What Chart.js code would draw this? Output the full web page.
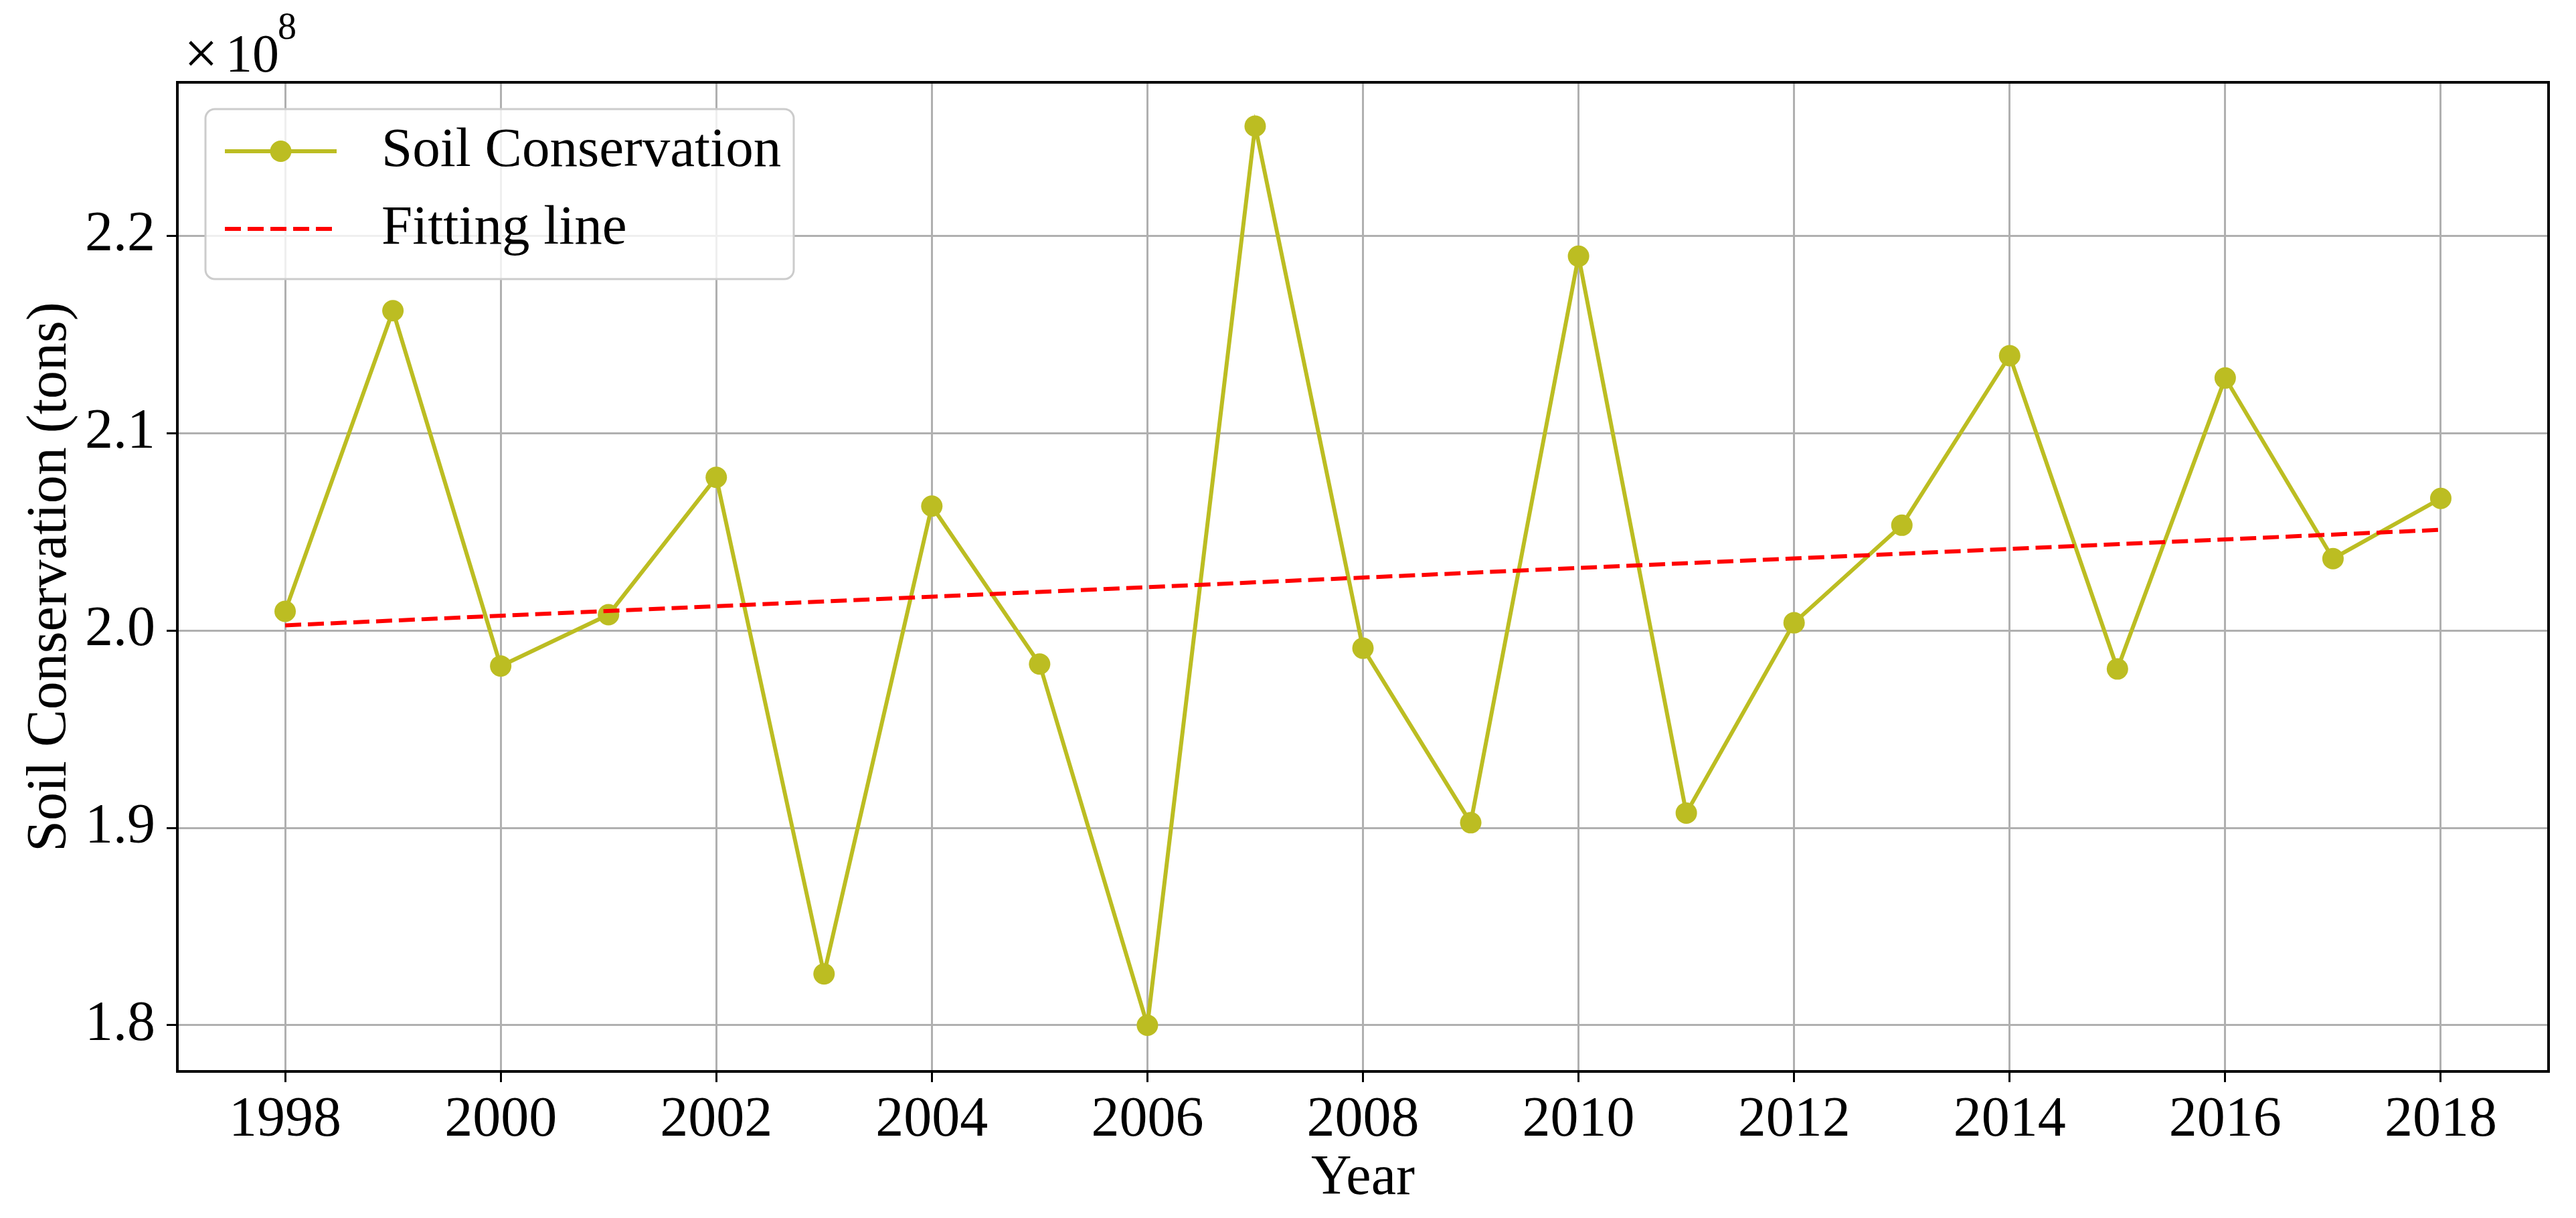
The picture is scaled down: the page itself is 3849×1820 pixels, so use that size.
<!DOCTYPE html>
<html>
<head>
<meta charset="utf-8">
<script src="https://cdn.jsdelivr.net/npm/chart.js@4/dist/chart.umd.min.js"></script>
<style>
  html, body { margin: 0; padding: 0; background: #fff; }
  canvas { display: block; }
</style>
</head>
<body>
<canvas id="chart" width="3849" height="1820"></canvas>
<script>
// 数据（单位：×10^8 吨），读自原图
var years = [1998, 1999, 2000, 2001, 2002, 2003, 2004, 2005, 2006, 2007, 2008,
             2009, 2010, 2011, 2012, 2013, 2014, 2015, 2016, 2017, 2018];
var soilConservation = [2.0097, 2.162, 1.982, 2.008, 2.0776, 1.826, 2.063, 1.983, 1.800, 2.2555, 1.991,
                        1.9026, 2.1896, 1.9075, 2.0039, 2.0533, 2.1392, 1.9805, 2.1279, 2.0364, 2.0669];
var fitYears = [1998, 2018];
var fitValues = [2.0026, 2.0510];
var xTicks = [1998, 2000, 2002, 2004, 2006, 2008, 2010, 2012, 2014, 2016, 2018];
var yTicks = [1.8, 1.9, 2.0, 2.1, 2.2];

(function () {
  var SERIF = "'Liberation Serif','Times New Roman',serif";
  var OLIVE = "#bcbd22";
  var RED = "#ff0000";
  var GRID = "#b0b0b0";
  Chart.defaults.font.family = SERIF;
  Chart.defaults.color = "#000";
  Chart.defaults.animation = false;

  function pairs(xs, ys) {
    return xs.map(function (x, i) { return { x: x, y: ys[i] }; });
  }

  // 外框 + 图例 + 偏移文字（×10^8）
  var decor = {
    id: "decor",
    afterDatasetsDraw: function (chart) {
      var a = chart.chartArea, ctx = chart.ctx;
      ctx.save();
      ctx.strokeStyle = "#000";
      ctx.lineWidth = 4;
      ctx.strokeRect(a.left, a.top, a.right - a.left, a.bottom - a.top);
      ctx.restore();
    },
    afterDraw: function (chart) {
      var a = chart.chartArea, ctx = chart.ctx;
      ctx.save();
      // 图例框
      var bx = a.left + 42, by = a.top + 40, bw = 879, bh = 254;
      ctx.beginPath();
      ctx.roundRect(bx, by, bw, bh, 14);
      ctx.fillStyle = "rgba(255,255,255,0.8)";
      ctx.fill();
      ctx.strokeStyle = "#cccccc";
      ctx.lineWidth = 3;
      ctx.stroke();

      var x0 = bx + 29, x1 = bx + 196, tx = bx + 263;
      var r1 = by + 63, r2 = by + 179;
      ctx.lineWidth = 6;
      ctx.strokeStyle = OLIVE;
      ctx.beginPath(); ctx.moveTo(x0, r1); ctx.lineTo(x1, r1); ctx.stroke();
      ctx.fillStyle = OLIVE;
      ctx.beginPath(); ctx.arc((x0 + x1) / 2, r1, 16, 0, Math.PI * 2); ctx.fill();

      ctx.strokeStyle = RED;
      ctx.setLineDash([24, 10]);
      ctx.beginPath(); ctx.moveTo(x0, r2); ctx.lineTo(x1, r2); ctx.stroke();
      ctx.setLineDash([]);

      ctx.fillStyle = "#000";
      ctx.font = "83px " + SERIF;
      ctx.textBaseline = "middle";
      ctx.textAlign = "left";
      ctx.fillText("Soil Conservation", tx, r1);
      ctx.fillText("Fitting line", tx, r2);

      // 偏移文字
      ctx.textBaseline = "alphabetic";
      ctx.font = "90px " + SERIF;
      ctx.fillText("\u00d7", a.left + 10, 110);
      ctx.font = "80px " + SERIF;
      ctx.fillText("10", a.left + 72, 107);
      ctx.font = "56px " + SERIF;
      ctx.fillText("8", a.left + 150, 58);
      ctx.restore();
    }
  };

  new Chart(document.getElementById("chart"), {
    type: "line",
    data: {
      datasets: [
        {
          label: "Soil Conservation",
          data: pairs(years, soilConservation),
          borderColor: OLIVE,
          backgroundColor: OLIVE,
          borderWidth: 6,
          pointRadius: 16,
          pointBorderWidth: 0,
          pointBackgroundColor: OLIVE,
          tension: 0,
          order: 1
        },
        {
          label: "Fitting line",
          data: pairs(fitYears, fitValues),
          borderColor: RED,
          borderWidth: 6,
          borderDash: [24, 10],
          pointRadius: 0,
          tension: 0,
          order: 0
        }
      ]
    },
    options: {
      responsive: false,
      layout: { padding: { left: 0, top: 123, right: 41, bottom: 0 } },
      plugins: { legend: { display: false }, tooltip: { enabled: false } },
      scales: {
        x: {
          type: "linear",
          min: 1997,
          max: 2019,
          afterBuildTicks: function (s) { s.ticks = xTicks.map(function (v) { return { value: v }; }); },
          afterFit: function (s) { s.height = 219; },
          ticks: { font: { size: 84 }, padding: 8, maxRotation: 0, autoSkip: false,
                   callback: function (v) { return String(v); } },
          grid: { color: GRID, lineWidth: 3, tickLength: 16, tickColor: "#000", tickWidth: 3 },
          border: { color: "#000", width: 4 },
          title: { display: true, text: "Year", font: { size: 84 }, padding: { top: 0, bottom: 8 } }
        },
        y: {
          type: "linear",
          min: 1.7766,
          max: 2.2777,
          afterBuildTicks: function (s) { s.ticks = yTicks.map(function (v) { return { value: v }; }); },
          afterFit: function (s) { s.width = 265; },
          ticks: { font: { size: 84 }, padding: 17,
                   callback: function (v) { return v.toFixed(1); } },
          grid: { color: GRID, lineWidth: 3, tickLength: 16, tickColor: "#000", tickWidth: 3 },
          border: { color: "#000", width: 4 },
          title: { display: true, text: "Soil Conservation (tons)", font: { size: 84 },
                   padding: { top: 26, bottom: 0 } }
        }
      }
    },
    plugins: [decor]
  });
})();
</script>
</body>
</html>
